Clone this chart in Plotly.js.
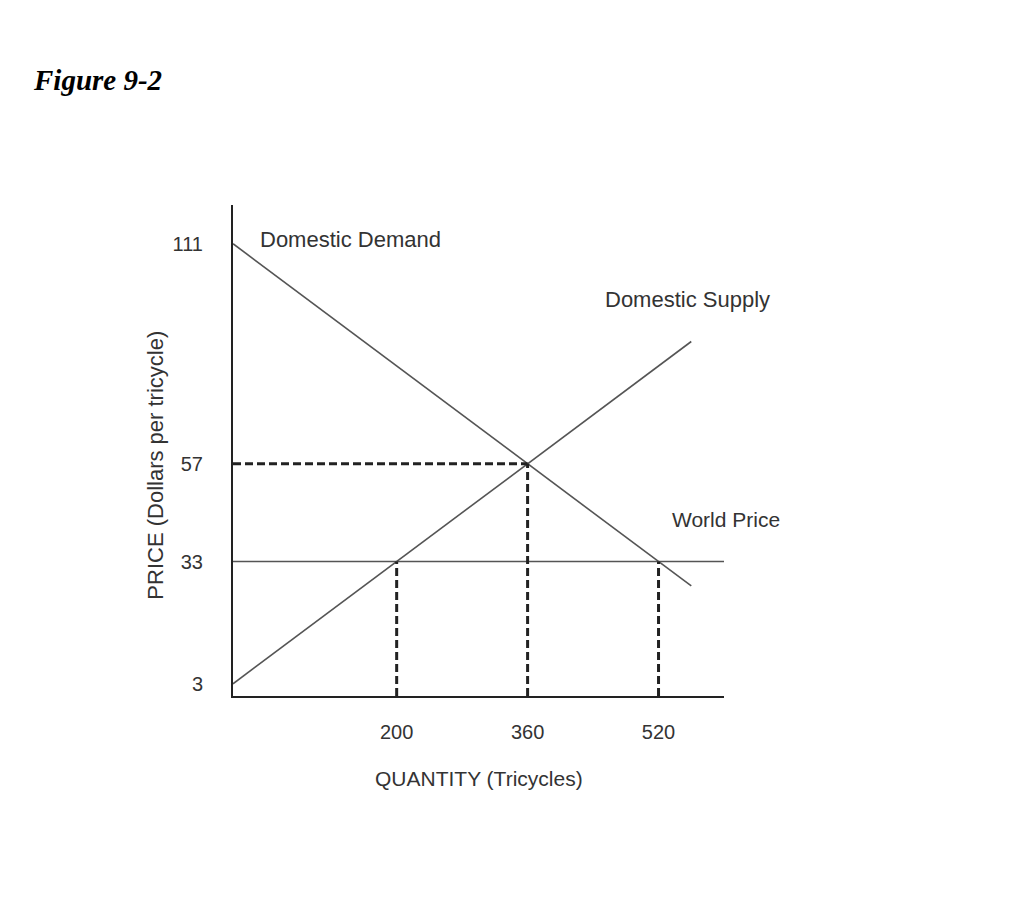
<!DOCTYPE html>
<html>
<head>
<meta charset="utf-8">
<script src="https://cdn.plot.ly/plotly-3.0.1.min.js"></script>
<style>
html,body{margin:0;padding:0;background:#fff;}
#chart{width:1013px;height:916px;}
</style>
</head>
<body>
<div id="chart"></div>
<script>
// Data
const demandQ = [0, 560];
const demandP = [111, 27];
const supplyQ = [0, 560];
const supplyP = [3, 87];
const worldQ = [0, 600];
const worldP = [33, 33];
const eqQ = 360, eqP = 57;
const supplyAtWorldQ = 200;
const demandAtWorldQ = 520;
const xTicks = [200, 360, 520];
const yTicks = [3, 33, 57, 111];
const xRange = [0, 600];
const yRange = [0, 120.5];

const solid = {color: '#555', width: 1.6};
const dashed = {color: '#222', width: 3, dash: '8px,4px'};

const traces = [
  {x: demandQ, y: demandP, mode: 'lines', line: solid, hoverinfo: 'skip'},
  {x: supplyQ, y: supplyP, mode: 'lines', line: solid, hoverinfo: 'skip'},
  {x: worldQ, y: worldP, mode: 'lines', line: solid, hoverinfo: 'skip'},
  {x: [0, eqQ], y: [eqP, eqP], mode: 'lines', line: dashed, hoverinfo: 'skip'},
  {x: [eqQ, eqQ], y: [0, eqP], mode: 'lines', line: dashed, hoverinfo: 'skip'},
  {x: [supplyAtWorldQ, supplyAtWorldQ], y: [0, worldP[0]], mode: 'lines', line: dashed, hoverinfo: 'skip'},
  {x: [demandAtWorldQ, demandAtWorldQ], y: [0, worldP[0]], mode: 'lines', line: dashed, hoverinfo: 'skip'}
];

const fam = 'Liberation Sans, Arial, sans-serif';
const lf = s => ({family: fam, size: s, color: '#333'});

const layout = {
  width: 1013, height: 916,
  showlegend: false,
  paper_bgcolor: '#fff', plot_bgcolor: '#fff',
  margin: {l: 233, r: 289, t: 205, b: 220},
  xaxis: {
    range: xRange, tickvals: xTicks, ticktext: xTicks.map(String),
    showgrid: false, zeroline: false, showline: true, linecolor: '#222', linewidth: 2,
    ticks: 'outside', ticklen: 17, tickcolor: 'rgba(0,0,0,0)',
    tickfont: lf(20),
    fixedrange: true
  },
  yaxis: {
    range: yRange, tickvals: yTicks, ticktext: yTicks.map(String),
    showgrid: false, zeroline: false, showline: true, linecolor: '#222', linewidth: 2,
    ticks: 'outside', ticklen: 24, tickcolor: 'rgba(0,0,0,0)',
    tickfont: lf(20),
    fixedrange: true
  },
  annotations: [
    {text: '<b><i>Figure 9-2</i></b>', xref: 'paper', yref: 'paper', x: -0.412, y: 1.254,
     xanchor: 'left', yanchor: 'middle', showarrow: false,
     font: {family: 'Liberation Serif, Times New Roman, serif', size: 29, color: '#000'}},
    {text: 'Domestic Demand', xref: 'x', yref: 'y', x: 30, y: 112, xanchor: 'left', yanchor: 'middle', showarrow: false, font: lf(22)},
    {text: 'Domestic Supply', xref: 'x', yref: 'y', x: 452, y: 97.2, xanchor: 'left', yanchor: 'middle', showarrow: false, font: lf(22)},
    {text: 'World Price', xref: 'x', yref: 'y', x: 534, y: 43.4, xanchor: 'left', yanchor: 'middle', showarrow: false, font: lf(21)},
    {text: 'QUANTITY (Tricycles)', xref: 'paper', yref: 'paper', x: 0.5, y: -0.169, xanchor: 'center', yanchor: 'middle', showarrow: false, font: lf(21)},
    {text: 'PRICE (Dollars per tricycle)', xref: 'paper', yref: 'paper', x: -0.157, y: 0.471, xanchor: 'center', yanchor: 'middle', textangle: -90, showarrow: false, font: lf(22)}
  ]
};

Plotly.newPlot('chart', traces, layout, {displayModeBar: false, staticPlot: true});
</script>
</body>
</html>
